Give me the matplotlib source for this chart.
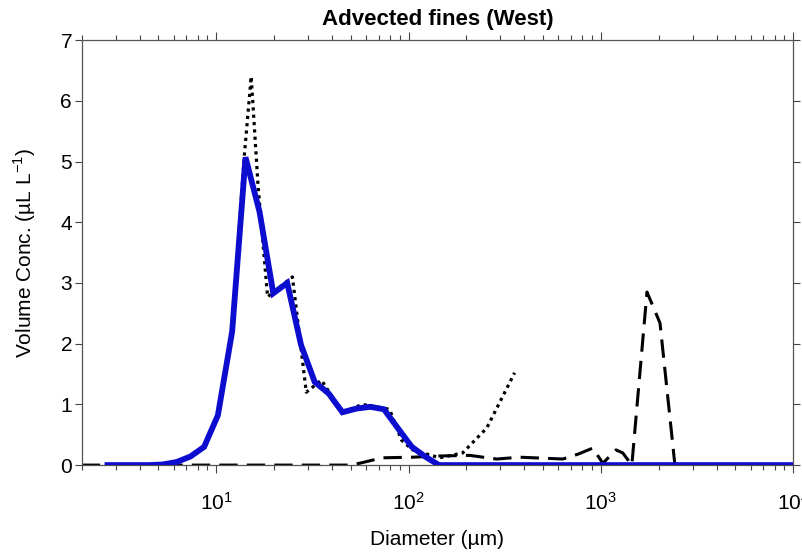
import matplotlib
matplotlib.use("Agg")
import matplotlib.pyplot as plt
from matplotlib.ticker import LogLocator, NullFormatter

plt.rcParams["font.family"] = ["Liberation Sans", "DejaVu Sans"]
plt.rcParams["mathtext.fontset"] = "custom"
plt.rcParams["mathtext.rm"] = "Liberation Sans"

# blue (thick) curve
blue_d = [2.72, 3.2, 3.78, 4.46, 5.27, 6.21, 7.33, 8.65, 10.2, 12.1, 14.2, 16.8,
          19.8, 23.4, 27.6, 32.5, 38.4, 45.3, 53.5, 63.1, 74.5, 87.9, 104, 122,
          144, 10000]
blue_v = [0, 0, 0, 0, 0.01, 0.05, 0.14, 0.30, 0.82, 2.2, 5.07, 4.17,
          2.83, 3.0, 1.98, 1.37, 1.18, 0.87, 0.93, 0.96, 0.92, 0.61, 0.3, 0.14,
          0.0, 0.0]

# dotted curve
dot_d = [2.72, 4.46, 5.27, 6.21, 7.33, 8.65, 10.2, 12.1, 14.0, 15.2, 16.5, 18.5,
         24.9, 29.4, 35.2, 45.3, 57.5, 79.6, 92, 105, 145, 191, 255, 356]
dot_v = [0, 0, 0.01, 0.05, 0.14, 0.30, 0.82, 2.2, 5.1, 6.4, 4.6, 2.77,
         3.1, 1.2, 1.4, 0.87, 1.0, 0.92, 0.41, 0.25, 0.12, 0.2, 0.61, 1.52]

# dashed curve
dash_d = [2.0, 50, 55.6, 73, 105, 145, 208, 287, 378, 634, 760, 908, 1024,
          1200, 1300, 1449, 1737, 2030, 2427, 10000]
dash_v = [0, 0, 0.03, 0.12, 0.13, 0.15, 0.16, 0.10, 0.13, 0.10, 0.18, 0.28, 0.03,
          0.25, 0.2, 0.0, 2.85, 2.34, 0.0, 0.0]

fig = plt.figure(figsize=(8.02, 5.57), dpi=100)
ax = fig.add_axes([0.102, 0.165, 0.887, 0.763])

ax.plot(dash_d, dash_v, color="black", lw=2.2, dashes=(6, 3), zorder=2)
ax.plot(dot_d, dot_v, color="black", lw=2.3, linestyle=(0, (1, 1.3)), zorder=2)
ax.plot(blue_d, blue_v, color="#0d0dd0", lw=4.2, solid_joinstyle="miter", zorder=3)

ax.set_xscale("log")
ax.set_xlim(2, 1e4)
ax.set_ylim(0, 7)
ax.set_yticks(range(0, 8))
ax.xaxis.set_major_locator(LogLocator(base=10, numticks=10))
ax.xaxis.set_minor_locator(LogLocator(base=10, subs=range(2, 10), numticks=20))
ax.xaxis.set_minor_formatter(NullFormatter())

ax.tick_params(which="both", direction="out", top=True, right=True,
               labelsize=15, color="#444444", width=0.8)
ax.tick_params(axis="x", which="major", length=6, labelsize=15, pad=13)
ax.tick_params(axis="x", which="minor", length=3.5)
ax.tick_params(axis="y", which="major", length=5, pad=2)
for s in ax.spines.values():
    s.set_color("#555555")
    s.set_linewidth(0.9)

ax.set_title("Advected fines (West)", fontsize=16, fontweight="bold", pad=11)
ax.set_xlabel("Diameter (µm)", fontsize=15, labelpad=12)
ax.set_ylabel("Volume Conc. (µL L$^{-1}$)", fontsize=15, labelpad=16)

fig.savefig("out.png", dpi=100)
